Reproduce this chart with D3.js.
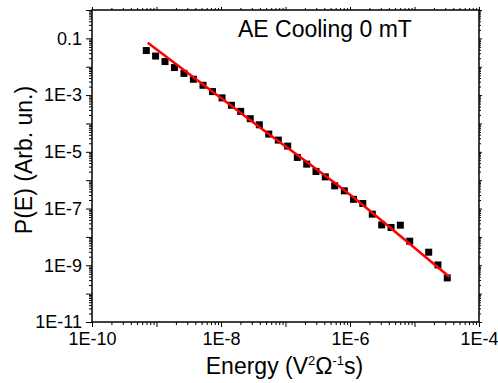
<!DOCTYPE html>
<html>
<head>
<meta charset="utf-8">
<script src="https://cdn.jsdelivr.net/npm/d3@7"></script>
<style>
  body { margin: 0; background: #fff; }
  svg { display: block; font-family: Arial, "Liberation Sans", sans-serif; }
</style>
</head>
<body>
<svg id="chart" width="498" height="383"></svg>
<script>
// measured points, energy (V^2 Ohm^-1 s) vs probability
var energy = [6.95e-10, 9.68e-10, 1.355e-9, 1.897e-9, 2.667e-9, 3.73e-9, 5.26e-9, 7.38e-9,
  1.038e-8, 1.449e-8, 2.018e-8, 2.84e-8, 3.93e-8, 5.50e-8, 7.73e-8, 1.081e-7,
  1.524e-7, 2.133e-7, 2.97e-7, 4.14e-7, 5.79e-7, 8.17e-7, 1.132e-6, 1.578e-6,
  2.218e-6, 3.10e-6, 4.33e-6, 6.03e-6, 8.43e-6, 1.660e-5, 2.31e-5, 3.22e-5];
var prob = [3.72e-2, 2.38e-2, 1.524e-2, 9.35e-3, 5.83e-3, 3.61e-3, 2.22e-3, 1.33e-3,
  7.98e-4, 4.38e-4, 2.67e-4, 1.47e-4, 8.97e-5, 4.22e-5, 2.59e-5, 1.59e-5,
  6.34e-6, 3.68e-6, 2.03e-6, 1.31e-6, 6.31e-7, 4.21e-7, 2.11e-7, 1.51e-7,
  6.34e-8, 2.65e-8, 2.15e-8, 2.59e-8, 7.06e-9, 2.89e-9, 1.03e-9, 3.58e-10];

// fitted curve
var fitEnergy = [7.31e-10, 4.03e-8, 1.43e-6, 5.96e-6, 3.47e-5];
var fitProb = [7.02e-2, 7.26e-5, 1.61e-7, 1.10e-8, 3.88e-10];

var xTickVals = [1e-10, 1e-8, 1e-6, 1e-4];
var xTickLabels = ["1E-10", "1E-8", "1E-6", "1E-4"];
var yTickVals = [1e-11, 1e-9, 1e-7, 1e-5, 1e-3, 0.1];
var yTickLabels = ["1E-11", "1E-9", "1E-7", "1E-5", "1E-3", "0.1"];

var margin = {top: 10, right: 19, bottom: 61, left: 92},
    width = 498 - margin.left - margin.right,
    height = 383 - margin.top - margin.bottom;

var svg = d3.select("#chart");
var g = svg.append("g").attr("transform", "translate(" + margin.left + "," + margin.top + ")");

var x = d3.scaleLog().domain([1e-10, 1e-4]).range([0, width]);
var y = d3.scaleLog().domain([1e-11, 1]).range([height, 0]);

function decades(lo, hi) {
  return d3.range(lo, hi + 1).map(function(e) { return Math.pow(10, e); });
}
function minors(lo, hi) {
  var out = [];
  for (var e = lo; e < hi; e++) {
    for (var k = 2; k <= 9; k++) out.push(k * Math.pow(10, e));
  }
  return out;
}

function labelFor(vals, labels) {
  return function(d) {
    var i = vals.findIndex(function(v) { return Math.abs(Math.log10(v) - Math.log10(d)) < 1e-6; });
    return i < 0 ? "" : labels[i];
  };
}

var xMajor = decades(-10, -4), xMinor = minors(-10, -4);
var yMajor = decades(-11, 0), yMinor = minors(-11, 0);

function styleAxis(sel, size) {
  sel.select(".domain").remove();
  sel.selectAll("line").attr("stroke", "#000").attr("stroke-width", 1);
  sel.selectAll("text").attr("fill", "#000").style("font-size", size + "px");
}

// bottom
g.append("g").attr("transform", "translate(0," + height + ")")
  .call(d3.axisBottom(x).tickValues(xMajor).tickSize(5).tickPadding(5)
    .tickFormat(labelFor(xTickVals, xTickLabels)))
  .call(styleAxis, 18);
g.append("g").attr("transform", "translate(0," + height + ")")
  .call(d3.axisBottom(x).tickValues(xMinor).tickSize(3).tickFormat(""))
  .call(styleAxis, 18);
// top mirror
g.append("g").call(d3.axisTop(x).tickValues(xMajor).tickSize(3).tickFormat("")).call(styleAxis, 18);
g.append("g").call(d3.axisTop(x).tickValues(xMinor).tickSize(2).tickFormat("")).call(styleAxis, 18);

// left
g.append("g")
  .call(d3.axisLeft(y).tickValues(yMajor).tickSize(6).tickPadding(4)
    .tickFormat(labelFor(yTickVals, yTickLabels)))
  .call(styleAxis, 18);
g.append("g").call(d3.axisLeft(y).tickValues(yMinor).tickSize(3).tickFormat(""))
  .call(styleAxis, 18);
// right mirror
g.append("g").attr("transform", "translate(" + width + ",0)")
  .call(d3.axisRight(y).tickValues(yMajor).tickSize(3).tickFormat("")).call(styleAxis, 18);
g.append("g").attr("transform", "translate(" + width + ",0)")
  .call(d3.axisRight(y).tickValues(yMinor).tickSize(2).tickFormat("")).call(styleAxis, 18);

// frame
g.append("rect").attr("width", width).attr("height", height)
  .attr("fill", "none").attr("stroke", "#000").attr("stroke-width", 1.5);

// points
var pts = energy.map(function(e, i) { return {e: e, p: prob[i]}; });
var sq = 7;
g.append("g").selectAll("rect").data(pts).enter().append("rect")
  .attr("x", function(d) { return x(d.e) - sq / 2; })
  .attr("y", function(d) { return y(d.p) - sq / 2; })
  .attr("width", sq).attr("height", sq)
  .attr("fill", "#000");

// fit
var fit = fitEnergy.map(function(e, i) { return {e: e, p: fitProb[i]}; });
g.append("path").datum(fit)
  .attr("fill", "none").attr("stroke", "#ff0000").attr("stroke-width", 2.5)
  .attr("d", d3.line().x(function(d) { return x(d.e); }).y(function(d) { return y(d.p); })
    .curve(d3.curveMonotoneX));

// annotation
g.append("text").attr("x", 146).attr("y", 27)
  .style("font-size", "23px").attr("fill", "#000")
  .text("AE Cooling 0 mT");

// axis titles
var xt = svg.append("text").attr("x", margin.left + width / 2 - 1).attr("y", 374)
  .attr("text-anchor", "middle").style("font-size", "23px").attr("fill", "#000");
xt.append("tspan").text("Energy (V");
xt.append("tspan").attr("dy", -9).style("font-size", "13px").text("2");
xt.append("tspan").attr("dy", 9).text("\u03A9");
xt.append("tspan").attr("dy", -9).style("font-size", "13px").text("-1");
xt.append("tspan").attr("dy", 9).text("s)");

svg.append("text")
  .attr("transform", "translate(32," + (margin.top + height / 2 - 6) + ") rotate(-90)")
  .attr("text-anchor", "middle").style("font-size", "23px").attr("fill", "#000")
  .text("P(E) (Arb. un.)");
</script>
</body>
</html>
